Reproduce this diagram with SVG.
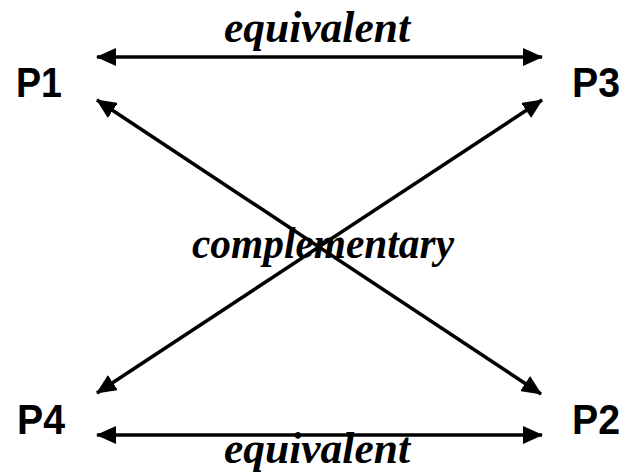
<svg xmlns="http://www.w3.org/2000/svg" width="624" height="475" viewBox="0 0 624 475">
<style>
.node{font-family:"Liberation Sans",Arial,sans-serif;font-weight:bold;font-size:43px;fill:#000}
.lbl{font-family:"Liberation Serif","Times New Roman",serif;font-weight:bold;font-style:italic;font-size:44px;fill:#000;text-anchor:middle}
.c{stroke:#000;stroke-width:3.5;fill:none;marker-start:url(#ah);marker-end:url(#ah)}
</style>
<defs>
<marker id="ah" viewBox="0 0 20 18" refX="19" refY="9" markerWidth="20" markerHeight="18" markerUnits="userSpaceOnUse" orient="auto-start-reverse">
<path d="M0,0 L20,9 L0,18 Z" fill="#000"/>
</marker>
</defs>
<rect width="624" height="475" fill="#fff"/>
<g id="connectors">
<line class="c" x1="97" y1="57" x2="542" y2="57"/>
<line class="c" x1="97" y1="435" x2="542" y2="435"/>
<line class="c" x1="97" y1="100" x2="541" y2="394"/>
<line class="c" x1="97" y1="393" x2="542" y2="100"/>
</g>
<g id="P1"><text class="node" x="16" y="97" textLength="46" lengthAdjust="spacingAndGlyphs">P1</text></g>
<g id="P3"><text class="node" x="572" y="97" textLength="48" lengthAdjust="spacingAndGlyphs">P3</text></g>
<g id="P4"><text class="node" x="17" y="434" textLength="48" lengthAdjust="spacingAndGlyphs">P4</text></g>
<g id="P2"><text class="node" x="572" y="434" textLength="48" lengthAdjust="spacingAndGlyphs">P2</text></g>
<g id="labels">
<text class="lbl" x="317" y="42" textLength="186" lengthAdjust="spacingAndGlyphs">equivalent</text>
<text class="lbl" x="323" y="258" textLength="262" lengthAdjust="spacingAndGlyphs">complementary</text>
<text class="lbl" x="317" y="463" textLength="186" lengthAdjust="spacingAndGlyphs">equivalent</text>
</g>
</svg>
